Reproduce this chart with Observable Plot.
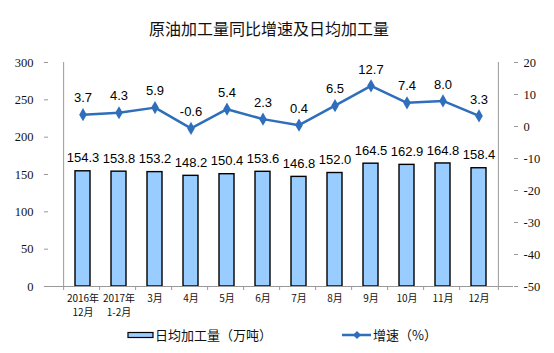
<!DOCTYPE html>
<html><head><meta charset="utf-8">
<script src="https://cdn.jsdelivr.net/npm/d3@7"></script>
<script src="https://cdn.jsdelivr.net/npm/@observablehq/plot@0.6"></script>
<style>
body{margin:0;background:#fff;}
#wrap{position:relative;width:554px;height:353px;overflow:hidden;}
#title{position:absolute;left:0;top:18px;width:538px;text-align:center;font:16px "Noto Sans CJK SC",sans-serif;color:#111;line-height:20px;}
#chart{position:absolute;left:0;top:45px;}
.leg{position:absolute;top:326px;font:13px "Noto Sans CJK SC",sans-serif;color:#111;line-height:18px;display:flex;align-items:center;}
</style></head>
<body><div id="wrap">
<div id="title">原油加工量同比增速及日均加工量</div>
<div id="chart"></div>
<div class="leg" style="left:127px"><svg width="27" height="10"><rect x="1" y="2.5" width="25" height="5" fill="#99ccff" stroke="#000" stroke-width="1.2"/></svg><span style="margin-left:1px">日均加工量（万吨）</span></div>
<div class="leg" style="left:342px"><svg width="30" height="10"><line x1="0" y1="5" x2="29" y2="5" stroke="#2f6eba" stroke-width="2.5"/><path d="M15,1 L19,5 L15,9 L11,5Z" fill="#2f6eba"/></svg><span style="margin-left:1px">增速（%）</span></div>
</div>
<script>
const months = ["2016年\n12月","2017年\n1-2月","3月","4月","5月","6月","7月","8月","9月","10月","11月","12月"];
const daily = [154.3,153.8,153.2,148.2,150.4,153.6,146.8,152.0,164.5,162.9,164.8,158.4];
const growth = [3.7,4.3,5.9,-0.6,5.4,2.3,0.4,6.5,12.7,7.4,8.0,3.3];
const leftTicks = [0,50,100,150,200,250,300];
const rightTicks = [20,10,0,-10,-20,-30,-40,-50];

const rMin = -50, rMax = 20, lMax = 300;
const toLeft = v => (v - rMin) * lMax / (rMax - rMin);
const toRight = v => Math.round(v * (rMax - rMin) / lMax + rMin);

const data = months.map((m, i) => ({m, daily: daily[i], growth: growth[i], gy: toLeft(growth[i])}));
const halfStep = 465 / 24;
const tickLen = 4 * lMax / 224;

const chart = Plot.plot({
  width: 554, height: 280,
  marginTop: 17, marginBottom: 39, marginLeft: 48, marginRight: 41,
  style: {background: "#fff", color: "#111"},
  x: {type: "band", domain: months, padding: 0.57, label: null},
  y: {domain: [0, lMax], label: null},
  marks: [
    Plot.barY(data, {x: "m", y: "daily", fill: "#99ccff", stroke: "#000", strokeWidth: 1.4}),
    Plot.text(data, {x: "m", y: "daily", text: d => d.daily.toFixed(1), dy: -13, fontSize: 13, fill: "#000"}),
    Plot.line(data, {x: "m", y: "gy", stroke: "#2f6eba", strokeWidth: 2.5}),
    Plot.dot(data, {x: "m", y: "gy", symbol: "diamond", r: 4, fill: "#2f6eba"}),
    Plot.text(data, {x: "m", y: "gy", text: d => d.growth.toFixed(1), dy: -16.5, fontSize: 13, fill: "#000"}),
    Plot.ruleX([months[0]], {dx: -halfStep, y1: 0, y2: lMax, stroke: "#999"}),
    Plot.ruleX([months[months.length-1]], {dx: halfStep, y1: 0, y2: lMax, stroke: "#999"}),
    Plot.ruleY([0], {stroke: "#999"}),
    Plot.ruleX(months, {x: d => d, dx: -halfStep, y1: 0, y2: -tickLen, stroke: "#999"}),
    Plot.ruleX([months[months.length-1]], {dx: halfStep, y1: 0, y2: -tickLen, stroke: "#999"}),
    Plot.axisY({ticks: leftTicks, tickSize: 4, tickPadding: 11, fontSize: 12, stroke: "#999", label: null}),
    Plot.axisY(rightTicks.map(toLeft), {anchor: "right", tickSize: 4, tickPadding: 6, tickFormat: toRight, fontSize: 12, stroke: "#999", label: null}),
    Plot.axisX({tickSize: 0, tickPadding: 5, fontSize: 10, lineHeight: 1.45, label: null})
  ]
});
chart.querySelectorAll('g[aria-label*="y-axis"] text').forEach(t => { t.style.fontFamily = '"Liberation Serif", serif'; t.style.fontSize = '12.5px'; });
chart.querySelectorAll('g[aria-label*="x-axis"] text').forEach(t => { t.style.fontFamily = '"Noto Sans CJK SC", sans-serif'; });
chart.querySelectorAll('g[aria-label="text"] text').forEach(t => { t.style.fontFamily = '"Liberation Sans", Arial, sans-serif'; });
document.getElementById("chart").appendChild(chart);
</script>
</body></html>
